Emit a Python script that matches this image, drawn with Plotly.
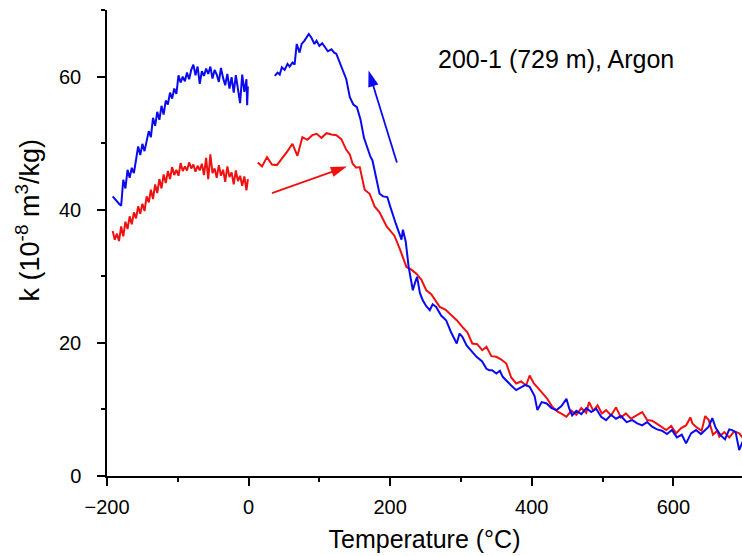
import plotly.graph_objects as go

# ---- data ----
x_blue_low = [-192, -189, -186, -183, -180, -177, -174, -171, -168, -165, -162, -159, -156, -153,
              -150, -147, -144, -141, -138, -135, -132, -129, -126, -123, -120, -117, -114, -111,
              -108, -105, -102, -99, -96, -93, -90, -87, -84, -81, -78, -75, -72, -69, -66, -63,
              -60, -57, -54, -51, -48, -45, -42, -39, -36, -33, -30, -27, -24, -21, -18, -15,
              -12, -9, -6, -3, -2, -1]
y_blue_low = [42.0, 41.6, 41.3, 40.9, 40.6, 44.5, 43.2, 46.0, 44.8, 46.3, 45.5, 47.8, 49.5, 48.2,
              49.9, 48.8, 50.5, 51.8, 50.9, 53.8, 52.6, 54.7, 53.5, 55.6, 54.3, 56.4, 55.8, 57.6,
              56.7, 58.2, 57.4, 60.2, 59.1, 60.0, 59.3, 60.6, 59.6, 61.0, 61.8, 60.2, 61.5, 58.9,
              60.8, 60.1, 61.2, 60.4, 61.5, 59.7, 61.0, 60.3, 59.2, 61.3, 59.8, 58.7, 60.4, 58.2,
              59.9, 57.6, 60.2, 58.4, 56.0, 60.3, 57.7, 59.6, 55.7, 58.5]

x_red_low = [-192, -189, -186, -183, -180, -177, -174, -171, -168, -165, -162, -159, -156, -153,
             -150, -147, -144, -141, -138, -135, -132, -129, -126, -123, -120, -117, -114, -111,
             -108, -105, -102, -99, -96, -93, -90, -87, -84, -81, -78, -75, -72, -69, -66, -63,
             -60, -57, -54, -51, -48, -45, -42, -39, -36, -33, -30, -27, -24, -21, -18, -15,
             -12, -9, -6, -3, -1]
y_red_low = [36.8, 35.5, 36.4, 35.3, 37.5, 36.0, 38.2, 37.1, 39.0, 37.8, 39.6, 38.7, 40.5, 39.4,
             40.9, 39.8, 42.0, 41.1, 43.0, 41.6, 43.8, 42.5, 44.6, 43.2, 45.3, 44.0, 45.8, 44.6,
             46.4, 45.2, 46.0, 45.1, 47.0, 45.8, 46.5, 45.9, 47.1, 46.2, 46.8, 45.7, 46.6, 45.9,
             46.9, 45.2, 47.8, 44.6, 48.3, 45.5, 46.2, 44.8, 46.7, 45.1, 46.0, 44.2, 46.5, 44.9,
             45.6, 43.8, 45.9, 44.3, 45.1, 43.6, 45.0, 42.9, 44.6]

x_red_high = [13, 19, 26, 33, 40, 47, 55, 62, 69, 76, 83, 90, 96, 103, 110, 117, 124, 131, 138,
              143, 147, 152, 157, 164, 171, 178, 185, 195, 206, 214, 223, 230, 237, 244, 251,
              258, 265, 270, 278, 286, 294, 302, 309, 316, 323, 330, 336, 343, 350, 357, 364,
              371, 378, 385, 392, 397, 403, 409, 415, 422, 429, 436, 443, 449, 456, 463, 470,
              477, 481, 487, 493, 499, 505, 512, 519, 526, 533, 540, 548, 556, 563, 570, 576,
              583, 590, 597, 604, 611, 618, 624, 627, 633, 640, 645, 650, 656, 662, 665, 672,
              679, 686, 693, 700]
y_red_high = [47.1, 46.5, 47.9, 46.8, 46.7, 47.6, 48.8, 49.9, 48.1, 50.9, 50.5, 51.2, 51.4, 50.8,
              51.5, 51.3, 51.2, 50.6, 49.0, 48.3, 46.9, 46.3, 46.4, 43.0, 42.4, 40.5, 39.6, 37.5,
              36.1, 34.0, 31.4, 31.0, 30.4, 29.5, 27.9, 27.3, 26.2, 25.4, 25.0, 24.2, 23.4, 22.4,
              21.6, 19.9, 19.8, 18.9, 19.4, 18.0, 17.9, 17.5, 16.9, 14.8, 13.9, 14.2, 13.6, 15.1,
              13.9, 13.2, 12.4, 11.6, 10.4, 9.7, 9.3, 8.9, 9.8, 9.2, 10.2, 9.5, 11.1, 9.8, 10.6,
              9.4, 9.9, 9.1, 10.3, 8.8, 9.4, 8.6, 9.1, 9.6, 8.4, 8.3, 7.9, 7.4, 6.9, 7.5, 6.4,
              7.2, 7.6, 8.8, 7.9, 7.3, 6.8, 9.0, 8.4, 6.2, 6.8, 5.9, 6.6, 5.8, 6.7, 6.4, 5.5]

x_blue_high = [37, 41, 44, 47, 51, 55, 58, 62, 65, 68, 72, 75, 79, 85, 89, 93, 96, 100, 104, 107,
               112, 117, 121, 124, 128, 133, 138, 143, 148, 153, 158, 163, 167, 172, 175, 180,
               185, 190, 196, 200, 203, 208, 213, 216, 218, 222, 226, 232, 235, 238, 242, 246,
               251, 256, 260, 265, 272, 279, 286, 294, 298, 302, 308, 315, 322, 330, 336, 340,
               344, 350, 355, 359, 365, 371, 378, 385, 391, 397, 404, 408, 414, 421, 428, 435,
               442, 449, 453, 457, 463, 470, 477, 484, 491, 498, 505, 512, 519, 526, 534, 542,
               549, 556, 563, 570, 577, 584, 591, 598, 605, 612, 618, 625, 632, 639, 646, 650,
               655, 660, 667, 673, 679, 683, 688, 693, 698]
y_blue_high = [60.1, 60.6, 60.3, 61.4, 61.0, 61.9, 61.5, 62.1, 61.8, 64.9, 63.6, 64.9, 65.4, 66.4,
               65.8, 64.9, 65.4, 64.6, 65.0, 64.6, 63.8, 64.1, 63.6, 63.4, 62.3, 60.9, 59.6, 56.9,
               55.8, 55.4, 53.6, 50.8, 49.4, 48.0, 47.4, 44.8, 42.4, 42.0, 41.9, 40.5, 39.4, 37.9,
               36.4, 35.5, 37.0, 35.2, 31.5, 27.9, 29.0, 29.9, 27.5, 26.4, 25.5, 24.9, 25.8, 25.4,
               24.1, 23.4, 21.6, 19.9, 21.4, 20.9, 19.6, 18.7, 17.9, 17.2, 16.1, 15.9, 15.9, 15.4,
               15.8, 14.9, 14.2, 13.6, 12.9, 13.4, 13.7, 13.4, 12.0, 9.9, 11.1, 10.9, 10.2, 9.9,
               10.5, 11.6, 10.1, 9.1, 9.8, 9.3, 10.2, 9.6, 10.1, 8.9, 8.4, 9.2, 8.6, 9.0, 8.1,
               8.4, 7.9, 7.6, 8.1, 7.4, 7.0, 6.8, 6.3, 6.9, 5.8, 6.2, 4.9, 6.4, 6.9, 6.3, 7.0, 7.4,
               8.7, 7.2, 6.1, 5.5, 7.0, 6.9, 6.6, 3.9, 5.2]

# direction arrows: [tail, head]
red_arrow_x = [33, 139]
red_arrow_y = [42.5, 46.5]
blue_arrow_x = [209.5, 169.5]
blue_arrow_y = [47.1, 60.9]

title_text = "200-1 (729 m), Argon"
x_title = "Temperature (°C)"
y_title = "k (10<sup>-8</sup> m<sup>3</sup>/kg)"

BLUE = "#0a0af0"
RED = "#f01010"
FONT = "Liberation Sans, Arial, sans-serif"

fig = go.Figure()
for xs, ys, c in [(x_red_low, y_red_low, RED), (x_red_high, y_red_high, RED),
                  (x_blue_low, y_blue_low, BLUE), (x_blue_high, y_blue_high, BLUE)]:
    fig.add_trace(go.Scatter(x=xs, y=ys, mode="lines", line=dict(color=c, width=2),
                             showlegend=False, hoverinfo="skip"))

for xs, ys, c in [(red_arrow_x, red_arrow_y, RED), (blue_arrow_x, blue_arrow_y, BLUE)]:
    fig.add_trace(go.Scatter(x=xs, y=ys, mode="lines+markers",
                             line=dict(color=c, width=1.8),
                             marker=dict(symbol=["circle", "arrow"], size=[0, 17], color=c,
                                         opacity=1, angleref="previous", line=dict(width=0)),
                             showlegend=False, hoverinfo="skip"))

fig.add_annotation(x=265, y=62.7, xref="x", yref="y", text=title_text, showarrow=False,
                   xanchor="left", yanchor="middle",
                   font=dict(family=FONT, size=25, color="black"))

fig.add_annotation(x=-0.124, y=0.549, xref="paper", yref="paper", text=y_title,
                   showarrow=False, textangle=-90, xanchor="center", yanchor="middle",
                   font=dict(family=FONT, size=27, color="black"))

axis_common = dict(showline=True, linecolor="black", linewidth=1.5, ticks="outside",
                   ticklen=8, tickwidth=1.5, tickcolor="black", showgrid=False, zeroline=False,
                   tickfont=dict(family=FONT, size=20, color="black"))

fig.update_layout(
    width=742, height=556,
    margin=dict(l=107, r=0, t=10, b=80),
    paper_bgcolor="white", plot_bgcolor="white",
    xaxis=dict(range=[-200, 697], dtick=200, tick0=0,
               minor=dict(dtick=100, ticks="outside", ticklen=4, tickwidth=1.5, tickcolor="black"),
               title=dict(text=x_title, font=dict(family=FONT, size=25, color="black"),
                          standoff=14),
               ticklabelstandoff=4,
               **axis_common),
    yaxis=dict(range=[0, 70], dtick=20, tick0=0,
               minor=dict(dtick=10, ticks="outside", ticklen=4, tickwidth=1.5, tickcolor="black"),
               ticklabelstandoff=12,
               **axis_common),
)

fig.write_html("out.html")
